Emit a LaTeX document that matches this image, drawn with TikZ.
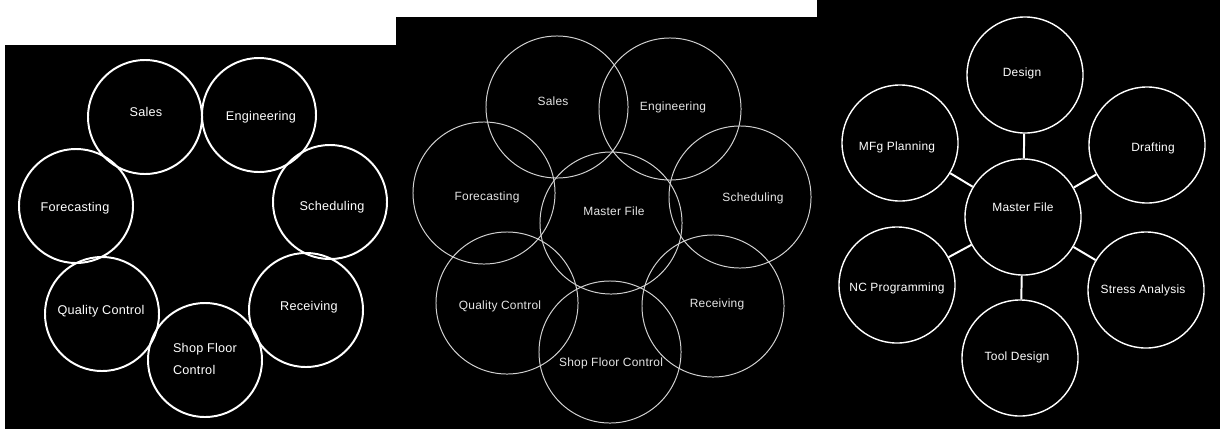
\documentclass[tikz,border=0pt]{standalone}
\usepackage{fontspec}
\setmainfont{Liberation Sans}
\newfontfamily\lblfont[LetterSpace=2]{Liberation Sans}

\begin{document}
\begin{tikzpicture}[x=0.025cm, y=-0.025cm,
    ringA/.style={circle, draw=white, line width=1.4pt, minimum size=2.85cm, inner sep=0pt},
    ringB/.style={circle, draw=white!82!black, line width=0.7pt, minimum size=3.55cm, inner sep=0pt},
    ringC/.style={circle, draw=white, line width=1pt, minimum size=2.9cm, inner sep=0pt},
    oneline/.style={text height=6.5pt, text depth=0pt},
    lblA/.style={text=white, inner sep=0pt, font=\lblfont\fontsize{9}{16}\selectfont},
    lblB/.style={text=white!90!black, inner sep=0pt, oneline, font=\lblfont\fontsize{8.5}{10}\selectfont},
    lblC/.style={text=white, inner sep=0pt, oneline, font=\lblfont\fontsize{8.5}{10}\selectfont},
    link/.style={draw=white, line width=1.4pt}
  ]
  \useasboundingbox (0,0) rectangle (1220,429);
  % the three panels
  \fill[black] (5,45) rectangle (396,429);
  \fill[black] (396,17) rectangle (817,429);
  \fill[black] (817,0) rectangle (1220,429);

  % left: ring of departments
  \node[ringA] (sales1) at (145,117) {};
  \node[ringA] (eng1)   at (259,115) {};
  \node[ringA] (sched1) at (330,202) {};
  \node[ringA] (recv1)  at (306,310) {};
  \node[ringA] (shop1)  at (205,360) {};
  \node[ringA] (qual1)  at (102,314) {};
  \node[ringA] (fore1)  at (76,206)  {};
  \node[lblA, oneline] (sales1t) at (146,112) {Sales};
  \node[lblA, oneline] (eng1t)   at (261,116) {Engineering};
  \node[lblA, oneline] (sched1t) at (332,206) {Scheduling};
  \node[lblA, oneline] (recv1t)  at (309,306) {Receiving};
  \node[lblA, align=left] (shop1t) at (205,359) {Shop Floor\\ Control};
  \node[lblA, oneline] (qual1t)  at (101,310) {Quality Control};
  \node[lblA, oneline] (fore1t)  at (75,207)  {Forecasting};

  % middle: overlapping around the master file
  \node[ringB] (sales2) at (557,107) {};
  \node[ringB] (eng2)   at (670,109) {};
  \node[ringB] (fore2)  at (484,193) {};
  \node[ringB] (mf2)    at (611,223) {};
  \node[ringB] (sched2) at (740,197) {};
  \node[ringB] (qual2)  at (507,303) {};
  \node[ringB] (recv2)  at (713,306) {};
  \node[ringB] (shop2)  at (610,352) {};
  \node[lblB] (sales2t) at (553,101) {Sales};
  \node[lblB] (eng2t)   at (673,106) {Engineering};
  \node[lblB] (fore2t)  at (487,196) {Forecasting};
  \node[lblB] (mf2t)    at (614,211) {Master File};
  \node[lblB] (sched2t) at (753,197) {Scheduling};
  \node[lblB] (qual2t)  at (500,305) {Quality Control};
  \node[lblB] (recv2t)  at (717,303) {Receiving};
  \node[lblB] (shop2t)  at (611,362) {Shop Floor Control};

  % right: hub and spokes
  \node[ringC] (mf3)     at (1023,217) {};
  \node[ringC] (design3) at (1025,75)  {};
  \node[ringC] (draft3)  at (1147,145) {};
  \node[ringC] (stress3) at (1146,290) {};
  \node[ringC] (tool3)   at (1020,358) {};
  \node[ringC] (nc3)     at (897,285)  {};
  \node[ringC] (mfg3)    at (900,143)  {};
  \node[lblC] (mf3t)     at (1023,207) {Master File};
  \node[lblC] (design3t) at (1022,72)  {Design};
  \node[lblC] (draft3t)  at (1153,147) {Drafting};
  \node[lblC] (stress3t) at (1143,289) {Stress Analysis};
  \node[lblC] (tool3t)   at (1017,356) {Tool Design};
  \node[lblC] (nc3t)     at (897,287)  {NC Programming};
  \node[lblC] (mfg3t)    at (897,146)  {MFg Planning};
  \foreach \n in {design3, draft3, stress3, tool3, nc3, mfg3}
    \draw[link] (mf3) -- (\n);
\end{tikzpicture}
\end{document}
